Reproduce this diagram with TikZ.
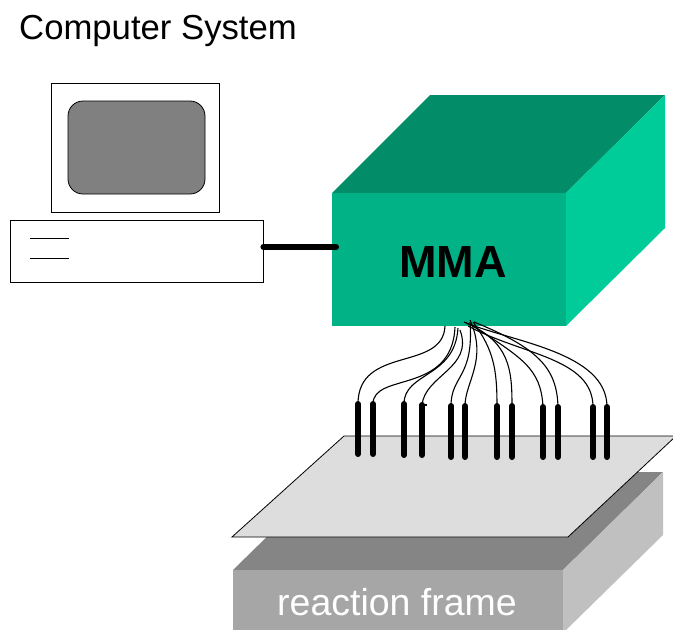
\documentclass[tikz,border=0pt]{standalone}
\usepackage{fontspec}
\setmainfont{Liberation Sans}
\begin{document}
\definecolor{mmatop}{RGB}{3,140,104}
\definecolor{mmafront}{RGB}{0,178,134}
\definecolor{mmaside}{RGB}{0,204,153}
\definecolor{frametop}{RGB}{133,133,133}
\definecolor{framefront}{RGB}{166,166,166}
\definecolor{frameside}{RGB}{192,192,192}
\definecolor{platefill}{RGB}{221,221,221}
\definecolor{screenfill}{RGB}{128,128,128}
\begin{tikzpicture}[x=1pt,y=-1pt,
  outline/.style={draw=black,line width=0.8pt},
  pin/.style={line width=6pt,line cap=round},
  wire/.style={line width=1.1pt},
  cable/.style={line width=6pt,line cap=round},
  label/.style={inner sep=0pt,anchor=base west}]
\useasboundingbox (0,0) rectangle (673,630);

% title
\node[label,font=\fontsize{34.7}{41}\selectfont] (title) at (19,39) {Computer System};

% computer: monitor, screen and base unit
\node[outline,fill=white,minimum width=168pt,minimum height=129pt,inner sep=0pt] (monitor) at (135,147.5) {};
\node[outline,fill=screenfill,rounded corners=15pt,minimum width=137pt,minimum height=93pt,inner sep=0pt] (screen) at (136.5,147.5) {};
\node[outline,fill=white,minimum width=253pt,minimum height=62pt,inner sep=0pt] (base) at (136.5,251) {};
\draw[line width=0.8pt] (30,238) -- (69,238);
\draw[line width=0.8pt] (30,258) -- (69,258);

% reaction frame block
\fill[frametop] (233,570) -- (333,472) -- (663,472) -- (563,570) -- cycle;
\fill[frameside] (563,570) -- (663,472) -- (663,535) -- (563,633) -- cycle;
\fill[framefront] (233,570) rectangle (563,640);
\node[label,text=white,font=\fontsize{37.5}{44}\selectfont] (frame) at (277,615) {reaction frame};

% specimen plate
\draw[outline,fill=platefill] (232,537) -- (344,436) -- (676,436) -- (568,537) -- cycle;

% MMA box
\fill[mmatop] (332,193) -- (430,95) -- (665,95) -- (566,193) -- cycle;
\fill[mmaside] (566,193) -- (665,95) -- (665,228) -- (566,326) -- cycle;
\fill[mmafront] (332,193) rectangle (566,326);
\node[inner sep=0pt,minimum width=234pt,minimum height=133pt] (mma) at (449,259.5) {};
\node[label,font=\bfseries\fontsize{45}{52}\selectfont] (mmatext) at (399,277) {MMA};

% cable between computer and MMA
\coordinate (cableend) at (336,247);
\draw[cable] (base.east |- cableend) -- (cableend);

% pins
\foreach \i/\x/\yt/\yb in {1/358/404/454, 2/373/404/454, 3/404/404/455, 4/422/405/455,
                           5/451/406/457, 6/465/406/457, 7/497/406/457, 8/512/406/457,
                           9/543/407/457, 10/558/407/457, 11/593/407/457, 12/607/407/457}{
  \coordinate (t\i) at (\x,\yt);
  \coordinate (b\i) at (\x,\yb);
  \draw[pin] (t\i) -- (b\i);
}

% wire origins under the MMA
\coordinate (s1) at (445,326);
\coordinate (s2) at (455,327);
\coordinate (s3) at (458,328);
\coordinate (s4) at (460,330);
\coordinate (s5) at (470,322);
\coordinate (s6) at (470,320);
\coordinate (s7) at (473,322);
\coordinate (s8) at (466,323);
\coordinate (s9) at (470,324);
\coordinate (s10) at (474,322);
\coordinate (s11) at (468,326);
\coordinate (s12) at (464,322);

% wires
\draw[wire] (s1) .. controls (443,372) and (358,345) .. (t1);
\draw[wire] (s2) .. controls (452,395) and (373,372) .. (t2);
\draw[wire] (s3) .. controls (455,378) and (404,372) .. (t3);
\draw[wire] (s4) .. controls (474,368) and (425,375) .. (t4);
\draw[wire] (t4) -- ++(5,0);
\draw[wire] (s5) .. controls (474,378) and (451,375) .. (t5);
\draw[wire] (s6) .. controls (488,360) and (465,382) .. (t6);
\draw[wire] (s7) .. controls (494,350) and (497,370) .. (t7);
\draw[wire] (s8) .. controls (510,342) and (512,370) .. (t8);
\draw[wire] (s9) .. controls (522,358) and (541,368) .. (t9);
\draw[wire] (s10) .. controls (538,348) and (557,368) .. (t10);
\draw[wire] (s11) .. controls (522,355) and (593,358) .. (t11);
\draw[wire] (s12) .. controls (512,342) and (607,352) .. (t12);
\end{tikzpicture}
\end{document}
